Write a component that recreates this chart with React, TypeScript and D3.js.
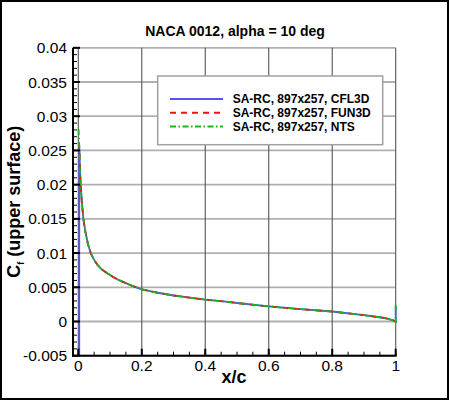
import React, { useEffect, useRef } from 'react';
import * as d3 from 'd3';

type Pt = [number, number];

interface Series {
  name: string;
  color: string;
  dash: string | null;
  data: Pt[];
}

const chartTitle = 'NACA 0012, alpha = 10 deg';
const xTicks = [0, 0.2, 0.4, 0.6, 0.8, 1];
const xTickLabels = ['0', '0.2', '0.4', '0.6', '0.8', '1'];
const yTicks = [-0.005, 0, 0.005, 0.01, 0.015, 0.02, 0.025, 0.03, 0.035, 0.04];
const yTickLabels = ['-0.005', '0', '0.005', '0.01', '0.015', '0.02', '0.025', '0.03', '0.035', '0.04'];

// upper surface skin friction (the three codes overlap here)
const upperSurface: Pt[] = [
  [0.004, 0.0245], [0.0055, 0.022], [0.0076, 0.02], [0.011, 0.0175],
  [0.016, 0.015], [0.022, 0.0132], [0.03, 0.0114], [0.039, 0.01],
  [0.05, 0.009], [0.06, 0.0083], [0.074, 0.0076], [0.09, 0.0071],
  [0.11, 0.0065], [0.13, 0.006], [0.15, 0.0056], [0.17, 0.0052],
  [0.2, 0.0047], [0.25, 0.0042], [0.3, 0.0038], [0.35, 0.0035],
  [0.4, 0.0032], [0.464, 0.0029], [0.5, 0.0027], [0.6, 0.0022],
  [0.7, 0.0018], [0.8, 0.00146], [0.9, 0.00092], [0.95, 0.00062],
  [0.97, 0.00045], [0.99, 0.0002], [1.0, 0.0],
];

const cfl3dLeadingEdge: Pt[] = [[0.003, -0.012], [0.003, 0.0258]];
const cfl3dTrailingEdge: Pt[] = [[1.0, 0.0022]];
const fun3dLeadingEdge: Pt[] = [[0.0015, 0.0262]];
const fun3dTrailingEdge: Pt[] = [];
const ntsLeadingEdge: Pt[] = [[0.001, 0.0281]];
const ntsTrailingEdge: Pt[] = [[1.0, -0.0004], [1.0, 0.0027]];

const series: Series[] = [
  { name: 'SA-RC, 897x257, CFL3D', color: '#5555ee', dash: null, data: [...cfl3dLeadingEdge, ...upperSurface, ...cfl3dTrailingEdge] },
  { name: 'SA-RC, 897x257, FUN3D', color: '#ee1111', dash: '6,5', data: [...fun3dLeadingEdge, ...upperSurface, ...fun3dTrailingEdge] },
  { name: 'SA-RC, 897x257, NTS', color: '#11bb11', dash: '6,2.5,1.5,2.5', data: [...ntsLeadingEdge, ...upperSurface, ...ntsTrailingEdge] },
];

const FONT = '"Liberation Sans", Arial, Helvetica, sans-serif';

const App: React.FC = () => {
  const svgRef = useRef<SVGSVGElement>(null);

  useEffect(() => {
    if (!svgRef.current) return;
    const svg = d3.select(svgRef.current);
    svg.selectAll('*').remove();

    const left = 73, right = 395.7, top = 47.8, bottom = 355.7;

    const x = d3.scaleLinear().domain([-0.0167, 1]).range([left, right]);
    const y = d3.scaleLinear().domain([-0.005, 0.04]).range([bottom, top]);

    // outer frame
    svg.append('rect')
      .attr('x', 1).attr('y', 1).attr('width', 447).attr('height', 398)
      .attr('fill', 'white').attr('stroke', 'black').attr('stroke-width', 2);

    // horizontal grid
    svg.append('g').selectAll('line')
      .data(yTicks)
      .enter().append('line')
      .attr('x1', left).attr('x2', right)
      .attr('y1', d => y(d)).attr('y2', d => y(d))
      .attr('stroke', '#b0b0b0').attr('stroke-width', 1.8);

    // vertical grid
    svg.append('g').selectAll('line')
      .data(xTicks)
      .enter().append('line')
      .attr('x1', d => x(d)).attr('x2', d => x(d))
      .attr('y1', top).attr('y2', bottom)
      .attr('stroke', '#555').attr('stroke-width', 1.1);

    // clip for curves
    svg.append('clipPath').attr('id', 'plot-clip')
      .append('rect')
      .attr('x', left).attr('y', top).attr('width', right - left + 2).attr('height', bottom - top);

    const line = d3.line<Pt>()
      .x(d => x(d[0]))
      .y(d => y(d[1]));

    const curves = svg.append('g').attr('clip-path', 'url(#plot-clip)');
    series.forEach(s => {
      curves.append('path')
        .datum(s.data)
        .attr('fill', 'none')
        .attr('stroke', s.color)
        .attr('stroke-width', 1.8)
        .attr('stroke-dasharray', s.dash)
        .attr('d', line);
    });

    // axes lines
    svg.append('line')
      .attr('x1', left).attr('x2', left).attr('y1', top).attr('y2', bottom + 1)
      .attr('stroke', 'black').attr('stroke-width', 2);
    svg.append('line')
      .attr('x1', left - 1).attr('x2', right + 1).attr('y1', bottom).attr('y2', bottom)
      .attr('stroke', 'black').attr('stroke-width', 2);

    // ticks (inward)
    const yMinor = d3.range(-0.005, 0.04001, 0.001);
    svg.append('g').selectAll('line')
      .data(yMinor)
      .enter().append('line')
      .attr('x1', left).attr('x2', left + 4)
      .attr('y1', d => y(d)).attr('y2', d => y(d))
      .attr('stroke', 'black').attr('stroke-width', 1);
    svg.append('g').selectAll('line')
      .data(yTicks)
      .enter().append('line')
      .attr('x1', left).attr('x2', left + 7)
      .attr('y1', d => y(d)).attr('y2', d => y(d))
      .attr('stroke', 'black').attr('stroke-width', 2);

    const xMinor = d3.range(0, 1.0001, 0.05);
    svg.append('g').selectAll('line')
      .data(xMinor)
      .enter().append('line')
      .attr('x1', d => x(d)).attr('x2', d => x(d))
      .attr('y1', bottom).attr('y2', bottom - 4)
      .attr('stroke', 'black').attr('stroke-width', 1);
    svg.append('g').selectAll('line')
      .data(xTicks)
      .enter().append('line')
      .attr('x1', d => x(d)).attr('x2', d => x(d))
      .attr('y1', bottom).attr('y2', bottom - 7)
      .attr('stroke', 'black').attr('stroke-width', 2);

    // tick labels
    svg.append('g').selectAll('text')
      .data(yTicks)
      .enter().append('text')
      .attr('x', left - 6)
      .attr('y', d => y(d))
      .attr('dy', '0.36em')
      .attr('text-anchor', 'end')
      .style('font-family', FONT)
      .style('font-size', '15.5px')
      .text((d, i) => yTickLabels[i]);

    svg.append('g').selectAll('text')
      .data(xTicks)
      .enter().append('text')
      .attr('x', d => x(d))
      .attr('y', 371)
      .attr('text-anchor', 'middle')
      .style('font-family', FONT)
      .style('font-size', '15.5px')
      .text((d, i) => xTickLabels[i]);

    // title
    svg.append('text')
      .attr('x', 235)
      .attr('y', 36)
      .attr('text-anchor', 'middle')
      .style('font-family', FONT)
      .style('font-size', '14px')
      .style('font-weight', 'bold')
      .text(chartTitle);

    // x label
    svg.append('text')
      .attr('x', 234)
      .attr('y', 383)
      .attr('text-anchor', 'middle')
      .style('font-family', FONT)
      .style('font-size', '18px')
      .style('font-weight', 'bold')
      .text('x/c');

    // y label
    const yLabel = svg.append('text')
      .attr('transform', `translate(20, ${(top + bottom) / 2}) rotate(-90)`)
      .attr('text-anchor', 'middle')
      .style('font-family', FONT)
      .style('font-size', '18px')
      .style('font-weight', 'bold');
    yLabel.append('tspan').text('C');
    yLabel.append('tspan').attr('dy', 4).style('font-size', '9px').text('f');
    yLabel.append('tspan').attr('dy', -4).text(' (upper surface)');

    // legend
    const legend = svg.append('g');
    legend.append('rect')
      .attr('x', 157.7).attr('y', 76).attr('width', 225).attr('height', 68.7)
      .attr('fill', 'white').attr('stroke', '#a0a0a0').attr('stroke-width', 1.5);

    series.forEach((s, i) => {
      const rowY = 99 + i * 13.8;
      legend.append('line')
        .attr('x1', 170).attr('x2', 223)
        .attr('y1', rowY).attr('y2', rowY)
        .attr('stroke', s.color)
        .attr('stroke-width', 2)
        .attr('stroke-dasharray', s.dash);
      legend.append('text')
        .attr('x', 232.7)
        .attr('y', rowY)
        .attr('dy', '0.36em')
        .style('font-family', FONT)
        .style('font-size', '12px')
        .style('font-weight', 'bold')
        .text(s.name);
    });
  }, []);

  return (
    <>
      <style>{'body{margin:0}'}</style>
      <svg ref={svgRef} width={450} height={401} style={{ display: 'block' }}></svg>
    </>
  );
};

export default App;
